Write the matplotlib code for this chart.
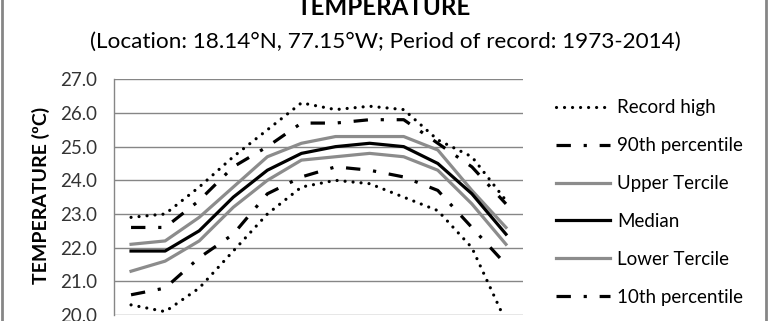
import matplotlib
matplotlib.use("Agg")
import matplotlib.pyplot as plt
from matplotlib.lines import Line2D

months = ["Jan", "Feb", "Mar", "Apr", "May", "Jun", "Jul", "Aug", "Sep", "Oct", "Nov", "Dec"]
record_high = [22.9, 23.0, 23.8, 24.7, 25.5, 26.3, 26.1, 26.2, 26.1, 25.2, 24.7, 23.4]
p90 = [22.6, 22.6, 23.4, 24.4, 25.0, 25.7, 25.7, 25.8, 25.8, 25.1, 24.4, 23.3]
upper_tercile = [22.1, 22.2, 22.9, 23.8, 24.7, 25.1, 25.3, 25.3, 25.3, 24.9, 23.7, 22.6]
median = [21.9, 21.9, 22.5, 23.5, 24.3, 24.8, 25.0, 25.1, 25.0, 24.5, 23.6, 22.4]
lower_tercile = [21.3, 21.6, 22.2, 23.2, 24.0, 24.6, 24.7, 24.8, 24.7, 24.3, 23.3, 22.1]
p10 = [20.6, 20.8, 21.7, 22.4, 23.6, 24.1, 24.4, 24.3, 24.1, 23.7, 22.6, 21.5]
record_low = [20.3, 20.1, 20.8, 21.9, 23.0, 23.8, 24.0, 23.9, 23.5, 23.1, 22.0, 19.8]
yticks = [20.0, 21.0, 22.0, 23.0, 24.0, 25.0, 26.0, 27.0]

FONT = "Lato"
plt.rcParams["font.family"] = [FONT, "DejaVu Sans"]

W, H = 768, 321
fig = plt.figure(figsize=(W / 100, H / 100), dpi=100)
ax = fig.add_axes([114 / W, 6 / H, (523 - 114) / W, (315 - 79.3) / H])

x = list(range(len(months)))
dot = dict(color="black", lw=2.3, linestyle=(0, (0.01, 2.5)), dash_capstyle="round")
dashdot = dict(color="black", lw=2.3, linestyle=(0, (4.5, 4.0, 1.0, 4.0)), dash_capstyle="butt")
grey = "#8c8c8c"

l1, = ax.plot(x, record_high, **dot, label="Record high")
l2, = ax.plot(x, p90, **dashdot, label="90th percentile")
l3, = ax.plot(x, upper_tercile, color=grey, lw=2.3, label="Upper Tercile")
l4, = ax.plot(x, median, color="black", lw=2.3, label="Median")
l5, = ax.plot(x, lower_tercile, color=grey, lw=2.3, label="Lower Tercile")
l6, = ax.plot(x, p10, **dashdot, label="10th percentile")
ax.plot(x, record_low, **dot, label="Record low")

ax.set_xlim(-0.5, len(months) - 0.5)
ax.set_ylim(20.0, 27.0)
ax.set_yticks(yticks)
ax.set_yticklabels([f"{v:.1f}" for v in yticks], fontsize=13.5, color="#333333")
ax.set_xticks([])
ax.tick_params(axis="y", length=0, pad=12.2)
ax.grid(axis="y", color="#868686", lw=1.0)
ax.set_axisbelow(True)
for s in ["top", "right", "bottom"]:
    ax.spines[s].set_visible(False)
ax.spines["left"].set_color("#868686")
ax.spines["left"].set_linewidth(1.0)

fig.text(41 / W, 1 - 195 / H, "TEMPERATURE (ºC)", rotation=90, ha="center", va="center",
         fontsize=14, fontweight="bold")

fig.text(384 / W, 1 - 15 / H, "TEMPERATURE", ha="center", va="baseline",
         fontsize=17.4, fontweight="bold")
fig.text(385 / W, 1 - 48 / H, "(Location: 18.14°N, 77.15°W; Period of record: 1973-2014)",
         ha="center", va="baseline", fontsize=16.2)

leg = fig.legend(handles=[l1, l2, l3, l4, l5, l6], loc="upper left",
                 bbox_to_anchor=(548.5 / W, 1 - 92 / H), frameon=False,
                 fontsize=13.5, handlelength=2.88, handletextpad=0.37,
                 labelspacing=1.11, borderaxespad=0)

# chart border (left and right edges visible)
fig.add_artist(Line2D([1.5 / W, 1.5 / W], [0, 1], transform=fig.transFigure,
                      color="#868686", lw=2))
fig.add_artist(Line2D([766 / W, 766 / W], [0, 1], transform=fig.transFigure,
                      color="#868686", lw=2))

fig.savefig("out.png", dpi=100)
